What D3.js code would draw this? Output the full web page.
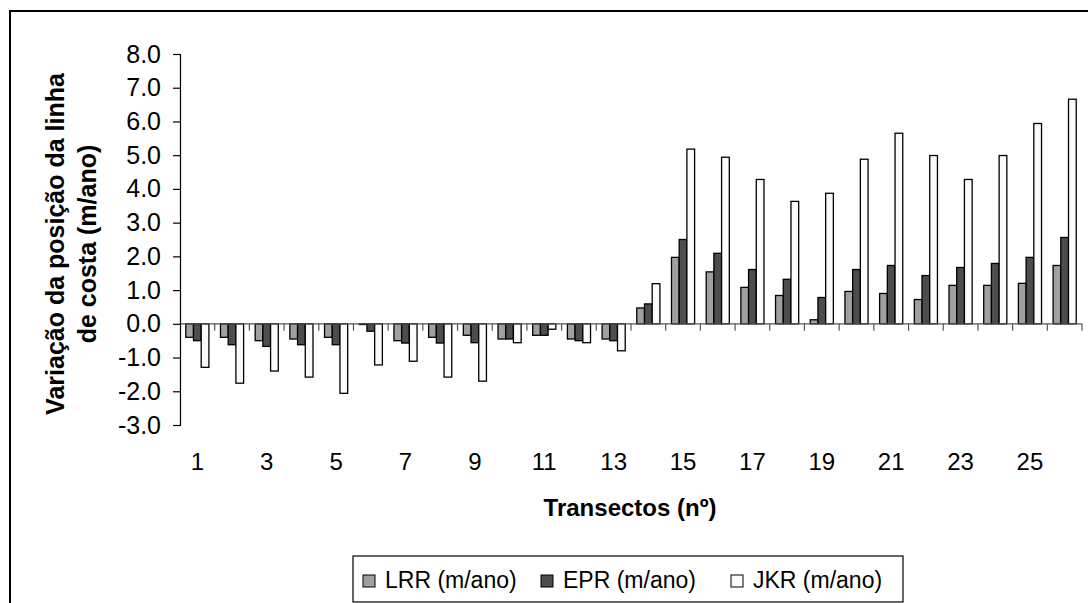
<!DOCTYPE html>
<html>
<head>
<meta charset="utf-8">
<script src="https://cdn.jsdelivr.net/npm/d3@7"></script>
<style>
  html, body { margin: 0; padding: 0; background: #fff; }
  svg { display: block; font-family: "Liberation Sans", Arial, sans-serif; }
</style>
</head>
<body>
<svg id="chart" width="1088" height="603"></svg>
<script>
const categories = d3.range(1, 27).map(String);
const seriesNames = ["LRR (m/ano)", "EPR (m/ano)", "JKR (m/ano)"];
const lrr = [-0.40, -0.40, -0.50, -0.45, -0.40, -0.02, -0.50, -0.40, -0.34, -0.45, -0.34, -0.45, -0.45,
             0.47, 1.97, 1.54, 1.08, 0.84, 0.12, 0.96, 0.90, 0.72, 1.14, 1.14, 1.20, 1.73];
const epr = [-0.50, -0.62, -0.67, -0.62, -0.62, -0.22, -0.57, -0.57, -0.56, -0.45, -0.34, -0.50, -0.50,
             0.59, 2.50, 2.09, 1.61, 1.32, 0.78, 1.61, 1.73, 1.43, 1.67, 1.79, 1.97, 2.56];
const jkr = [-1.29, -1.76, -1.40, -1.58, -2.06, -1.22, -1.11, -1.58, -1.70, -0.56, -0.16, -0.56, -0.80,
             1.19, 5.18, 4.94, 4.28, 3.63, 3.87, 4.88, 5.65, 4.99, 4.28, 4.99, 5.94, 6.66];
const yTicks = d3.range(-3, 9, 1);
const xTickLabels = categories.filter((d, i) => i % 2 === 0);
const colors = ["#a0a0a0", "#4d4d4d", "#fbfbfb"];

const series = [lrr, epr, jkr];
const svg = d3.select("#chart");
const FONT = 24;

// outer border
svg.append("rect").attr("x", 10).attr("y", 11).attr("width", 1100).attr("height", 620)
  .attr("fill", "none").attr("stroke", "#000").attr("stroke-width", 2);

const x0 = d3.scaleBand().domain(categories).range([180, 1082]).padding(0);
const bw = x0.bandwidth();
const barW = bw / 4.5;
const x1 = d3.scaleBand().domain(seriesNames).range([0.75 * barW, 3.75 * barW]).padding(0);
const y = d3.scaleLinear().domain([-3, 8]).range([425, 54]);

// bars
const groups = svg.append("g").selectAll("g").data(categories).join("g")
  .attr("transform", d => `translate(${x0(d)},0)`);
groups.selectAll("rect").data((d, i) => seriesNames.map((s, k) => ({ s, k, v: series[k][i] })))
  .join("rect")
  .attr("x", d => x1(d.s))
  .attr("width", x1.bandwidth())
  .attr("y", d => y(Math.max(0, d.v)))
  .attr("height", d => Math.abs(y(d.v) - y(0)))
  .attr("fill", d => colors[d.k])
  .attr("stroke", "#000")
  .attr("stroke-width", 1.3);

// category axis at zero with ticks at band boundaries
const zeroY = y(0);
svg.append("line").attr("x1", 180).attr("x2", 1082).attr("y1", zeroY).attr("y2", zeroY)
  .attr("stroke", "#555").attr("stroke-width", 1.2);
const boundaries = categories.map(c => x0(c)).concat([x0(categories[categories.length - 1]) + bw]);
svg.append("g").selectAll("line").data(boundaries.slice(1)).join("line")
  .attr("x1", d => d).attr("x2", d => d).attr("y1", zeroY).attr("y2", zeroY + 7)
  .attr("stroke", "#555").attr("stroke-width", 1.2);

// x tick labels at bottom
svg.append("g").selectAll("text").data(xTickLabels).join("text")
  .attr("x", d => x0(d) + bw / 2)
  .attr("y", 470)
  .attr("text-anchor", "middle")
  .attr("font-size", FONT)
  .text(d => d);

// y axis
const yAxis = d3.axisLeft(y).tickValues(yTicks).tickSize(7).tickPadding(12)
  .tickFormat(d => d.toFixed(1));
const gy = svg.append("g").attr("transform", "translate(180,0)").call(yAxis);
gy.select(".domain").attr("stroke", "#000").attr("stroke-width", 1.2);
gy.selectAll(".tick line").attr("stroke", "#000").attr("stroke-width", 1.2);
gy.selectAll(".tick text").attr("font-size", 25).attr("font-family", "Liberation Sans, Arial, sans-serif").attr("fill", "#000");

// axis titles
svg.append("text").attr("x", 630).attr("y", 516).attr("text-anchor", "middle")
  .attr("font-size", FONT).attr("font-weight", "bold").text("Transectos (nº)");
const yt = svg.append("text").attr("transform", "translate(0,244) rotate(-90)")
  .attr("text-anchor", "middle").attr("font-size", 25).attr("font-weight", "bold");
yt.append("tspan").attr("x", 0).attr("y", 64).text("Variação da posição da linha");
yt.append("tspan").attr("x", 0).attr("y", 96).text("de costa (m/ano)");

// legend
const legSq = [363, 541, 731];
svg.append("rect").attr("x", 353).attr("y", 556).attr("width", 550).attr("height", 46)
  .attr("fill", "#fff").attr("stroke", "#000").attr("stroke-width", 1.2);
const leg = svg.append("g").selectAll("g").data(seriesNames).join("g");
leg.append("rect").attr("x", (d, i) => legSq[i]).attr("y", 575).attr("width", 12).attr("height", 12)
  .attr("fill", (d, i) => colors[i]).attr("stroke", "#000").attr("stroke-width", 1);
leg.append("text").attr("x", (d, i) => legSq[i] + 22).attr("y", 588).attr("font-size", 23).text(d => d);
</script>
</body>
</html>
